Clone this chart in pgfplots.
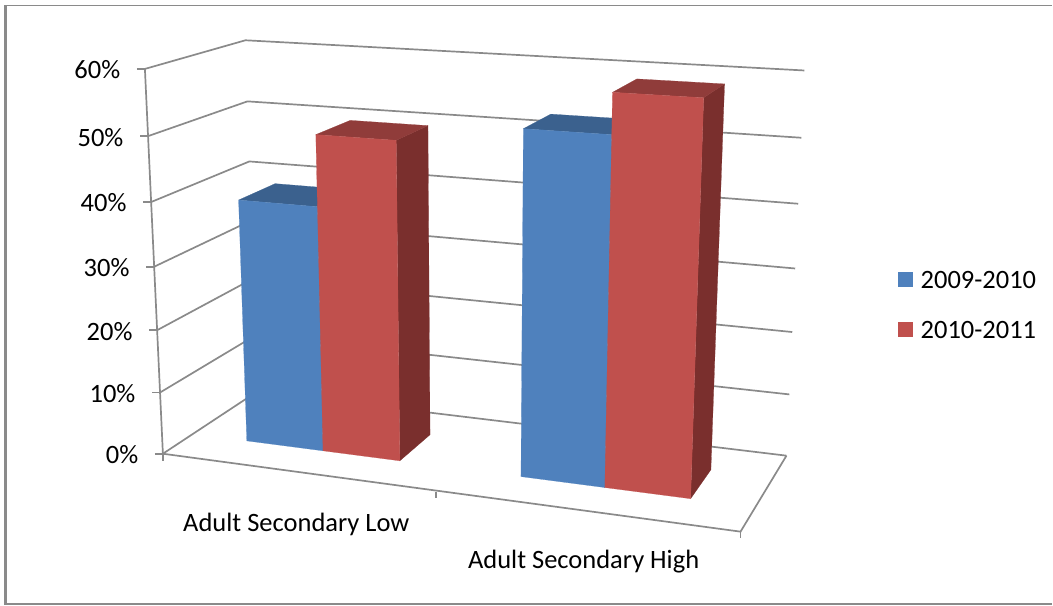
\documentclass[border=0pt]{standalone}
\usepackage{fontspec}
\setmainfont{Carlito}
\usepackage{pgfplots}
\pgfplotsset{compat=1.18}

% Central projection of the chart box: u runs along the categories, d into the
% depth of the floor (both 0..1), v is the percentage on the value axis.
\pgfmathdeclarefunction{projw}{3}{\pgfmathparse{1-0.1005*#1+0.0993*#2-0.0545*#3/60}}
\pgfmathdeclarefunction{projx}{3}{\pgfmathparse{(163+503.5*#1+119.5*#2-25.9*#3/60)/projw(#1,#2,#3)}}
\pgfmathdeclarefunction{projy}{3}{\pgfmathparse{(454+24.5*#1-23.1*#2-388.8*#3/60)/projw(#1,#2,#3)}}

\definecolor{gridgray}{HTML}{8A8A8A}
\definecolor{blueF}{HTML}{4F81BD}
\definecolor{blueS}{HTML}{2F4D71}
\definecolor{redF}{HTML}{C0504D}
\definecolor{redS}{HTML}{7A2F2D}
\newcommand{\labelfont}{\fontsize{26.6}{26.6}\selectfont}

\pgfplotsset{
  table/box/.style={row sep=\\,
    x expr={projx(\thisrow{u},\thisrow{d},\thisrow{v})},
    y expr={projy(\thisrow{u},\thisrow{d},\thisrow{v})}},
  wall/.style={draw=gridgray,line width=1.7bp,forget plot,mark=none},
}
% One bar: left and right end along u, height in percent, three face colours.
\newcommand{\barbox}[5]{%
  \addplot[forget plot,fill=#5,draw=#5,line width=0.2bp] table[box]
    {u d v\\ #2 0.30 0\\ #2 0.69 0\\ #2 0.69 #3\\ #2 0.30 #3\\}--cycle;
  \addplot[forget plot,fill=#4!75!black,draw=#4!75!black,line width=0.2bp] table[box]
    {u d v\\ #1 0.30 #3\\ #2 0.30 #3\\ #2 0.69 #3\\ #1 0.69 #3\\}--cycle;
  \addplot[forget plot,fill=#4,draw=#4,line width=0.2bp] table[box]
    {u d v\\ #1 0.30 0\\ #2 0.30 0\\ #2 0.30 #3\\ #1 0.30 #3\\}--cycle;
}
% One gridline with its tick and label, round the side wall and the back wall.
\newcommand{\gridline}[1]{%
  \addplot[wall] table[box] {u d v\\ 0 0 #1\\ 0 1 #1\\ 1 1 #1\\};
  \draw[draw=gridgray,line width=1.7bp]
    (axis cs:{projx(0,0,#1)-8},{projy(0,0,#1)}) -- (axis cs:{projx(0,0,#1)},{projy(0,0,#1)});
  \node[anchor=east,inner sep=0pt,font=\labelfont] at
    (axis cs:{projx(0,0,#1)-24.5},{projy(0,0,#1)+1}) {#1\%};
}

\begin{document}
\begin{tikzpicture}
\begin{axis}[
  scale only axis,width=1053bp,height=605bp,
  xmin=0,xmax=1053,ymin=0,ymax=605,y dir=reverse,
  axis lines=none,clip=false,
  legend style={at={(axis cs:899,271)},anchor=north west,draw=none,fill=none,
    inner sep=0pt,outer sep=0pt,row sep=33bp,
    font=\labelfont,
    nodes={inner sep=0pt,text depth=0pt}},
  legend image code/.code={\path[#1,draw=none] (0bp,-7.5bp) rectangle (15bp,7.5bp);\path (22bp,0bp);},
  legend cell align=left,
]
% Outer frame of the chart area
\path (axis cs:0,0) rectangle (axis cs:1053,605);
\addplot[forget plot,draw=gridgray,line width=2.6bp] coordinates {(5.3,605) (5.3,4.7)};
\addplot[forget plot,draw=gridgray,line width=1.3bp] coordinates {(5.3,5.3) (1053,5.3)};
\addplot[forget plot,draw=gridgray,line width=1.3bp] coordinates {(5.3,604.3) (1053,604.3)};

% Walls and floor
\gridline{0}\gridline{10}\gridline{20}\gridline{30}\gridline{40}\gridline{50}\gridline{60}
\addplot[wall] table[box] {u d v\\ 0 0 0\\ 0 0 60\\};
\addplot[wall] table[box] {u d v\\ 0 0 0\\ 1 0 0\\ 1 1 0\\};
\addplot[wall] coordinates {(163,454) (163,461)};
\addplot[wall] coordinates {(436.5,492) (436.5,498)};
\addplot[wall] coordinates {(741,532) (741,538)};

% Bars, values in percent
\barbox{0.105}{0.250}{39}{blueF}{blueS}
\barbox{0.250}{0.392}{50}{redF}{redS}
\barbox{0.608}{0.752}{53}{blueF}{blueS}
\barbox{0.752}{0.895}{59}{redF}{redS}

\node[font=\labelfont] at (axis cs:296.5,525) {Adult Secondary Low};
\node[font=\labelfont] at (axis cs:584,562) {Adult Secondary High};

\addlegendimage{fill=blueF}\addlegendentry{2009-2010}
\addlegendimage{fill=redF}\addlegendentry{2010-2011}
\end{axis}
\end{tikzpicture}
\end{document}
